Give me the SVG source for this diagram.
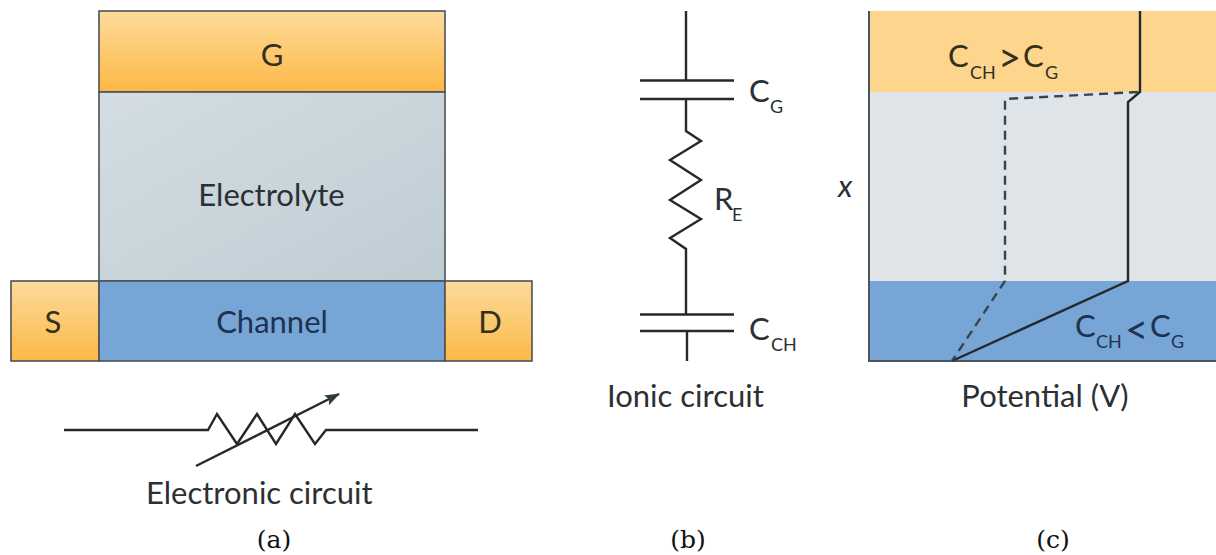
<svg xmlns="http://www.w3.org/2000/svg" width="1216" height="555" viewBox="0 0 1216 555">
<defs>
<linearGradient id="gold" x1="0" y1="0" x2="0" y2="1"><stop offset="0" stop-color="#fddb9b"/><stop offset="1" stop-color="#fcb846"/></linearGradient>
<linearGradient id="grey" x1="0" y1="0" x2="1" y2="1"><stop offset="0" stop-color="#d3dde3"/><stop offset="1" stop-color="#c0ccd4"/></linearGradient>
<marker id="ah" markerWidth="15" markerHeight="12" refX="14" refY="6" orient="auto" markerUnits="userSpaceOnUse"><path d="M0 0.500L15 6L0 11.500L3 6Z" fill="#2f393f"/></marker>
</defs>
<style>
text{font-family:"Lato","Noto Sans",sans-serif;font-size:31px;fill:#2a3034}
.m{text-anchor:middle}
.s{font-size:18px}
.op{font-size:40px}
.cap{font-family:"DejaVu Serif","Liberation Serif",serif;font-size:25px;fill:#111;text-anchor:middle}
.box{stroke:#4d5155;stroke-width:1.6}
.w{fill:none;stroke:#23292d;stroke-width:2.4}
.d{fill:none;stroke:#38434d;stroke-width:2.4;stroke-dasharray:9 6}
.navy{fill:#1d3350}
.br{fill:#33301f}
</style>
<rect width="1216" height="555" fill="#fff"/>
<g id="panel-a">
<g id="node-G"><rect class="box" x="99" y="11" width="346" height="81" fill="url(#gold)"/><text class="m br" x="272" y="66">G</text></g>
<g id="node-electrolyte"><rect class="box" x="99" y="92" width="346" height="189" fill="url(#grey)"/><text class="m" x="271.500" y="206">Electrolyte</text></g>
<g id="node-S"><rect class="box" x="11" y="281" width="88" height="80" fill="url(#gold)"/><text class="m br" x="53" y="333">S</text></g>
<g id="node-channel"><rect class="box" x="99" y="281" width="346" height="80" fill="#76a5d6"/><text class="m navy" x="272" y="333">Channel</text></g>
<g id="node-D"><rect class="box" x="445" y="281" width="87" height="80" fill="url(#gold)"/><text class="m br" x="490" y="333">D</text></g>
<g id="electronic-circuit">
<path class="w" d="M64 430H208L217 414L237 444L257 414L276 444L295 414L315 444L326 430H478"/>
<path class="w" d="M196 466L339 394" marker-end="url(#ah)"/>
<text x="146" y="504">Electronic circuit</text>
</g>
<text class="cap" x="274" y="548">(a)</text>
</g>
<g id="panel-b">
<g id="ionic-circuit">
<path class="w" d="M686 11V80.500M640 80.500H734M640 99H734M686 99V131L701 141L670 160L701 180L670 200L701 219L670 238L686 249V314.500M640 314.500H734M640 331H734M687 331V361"/>
<text x="749" y="102">C</text><text class="s" x="770" y="113">G</text>
<text x="714" y="210">R</text><text class="s" x="732" y="221">E</text>
<text x="749" y="340">C</text><text class="s" x="771" y="351">CH</text>
<text x="607" y="407">Ionic circuit</text>
</g>
<text class="cap" x="688" y="548">(b)</text>
</g>
<g id="panel-c">
<rect x="869" y="11" width="347" height="81" fill="#fdd58d"/>
<rect x="869" y="92" width="347" height="189" fill="#dfe4e8"/>
<rect x="869" y="281" width="347" height="80" fill="#76a5d6"/>
<path fill="none" stroke="#4a5560" stroke-width="2" d="M869 11V361H1216"/>
<path class="w" d="M1140 11V92L1128 102V281L952 361"/>
<path class="d" d="M1138 92L1005 99V281L952 361"/>
<text class="br" x="948" y="67">C</text><text class="s br" x="970" y="79">CH</text><text class="op br" x="998" y="72">&gt;</text><text class="br" x="1023" y="67">C</text><text class="s br" x="1045" y="79">G</text>
<text class="navy" x="1075" y="337">C</text><text class="s navy" x="1096" y="348">CH</text><text class="op navy" x="1125" y="344">&lt;</text><text class="navy" x="1150" y="337">C</text><text class="s navy" x="1171" y="348">G</text>
<text x="838" y="197" style="font-style:italic">x</text>
<text class="m" x="1045" y="407">Potential (V)</text>
<text class="cap" x="1053" y="548">(c)</text>
</g>
</svg>
